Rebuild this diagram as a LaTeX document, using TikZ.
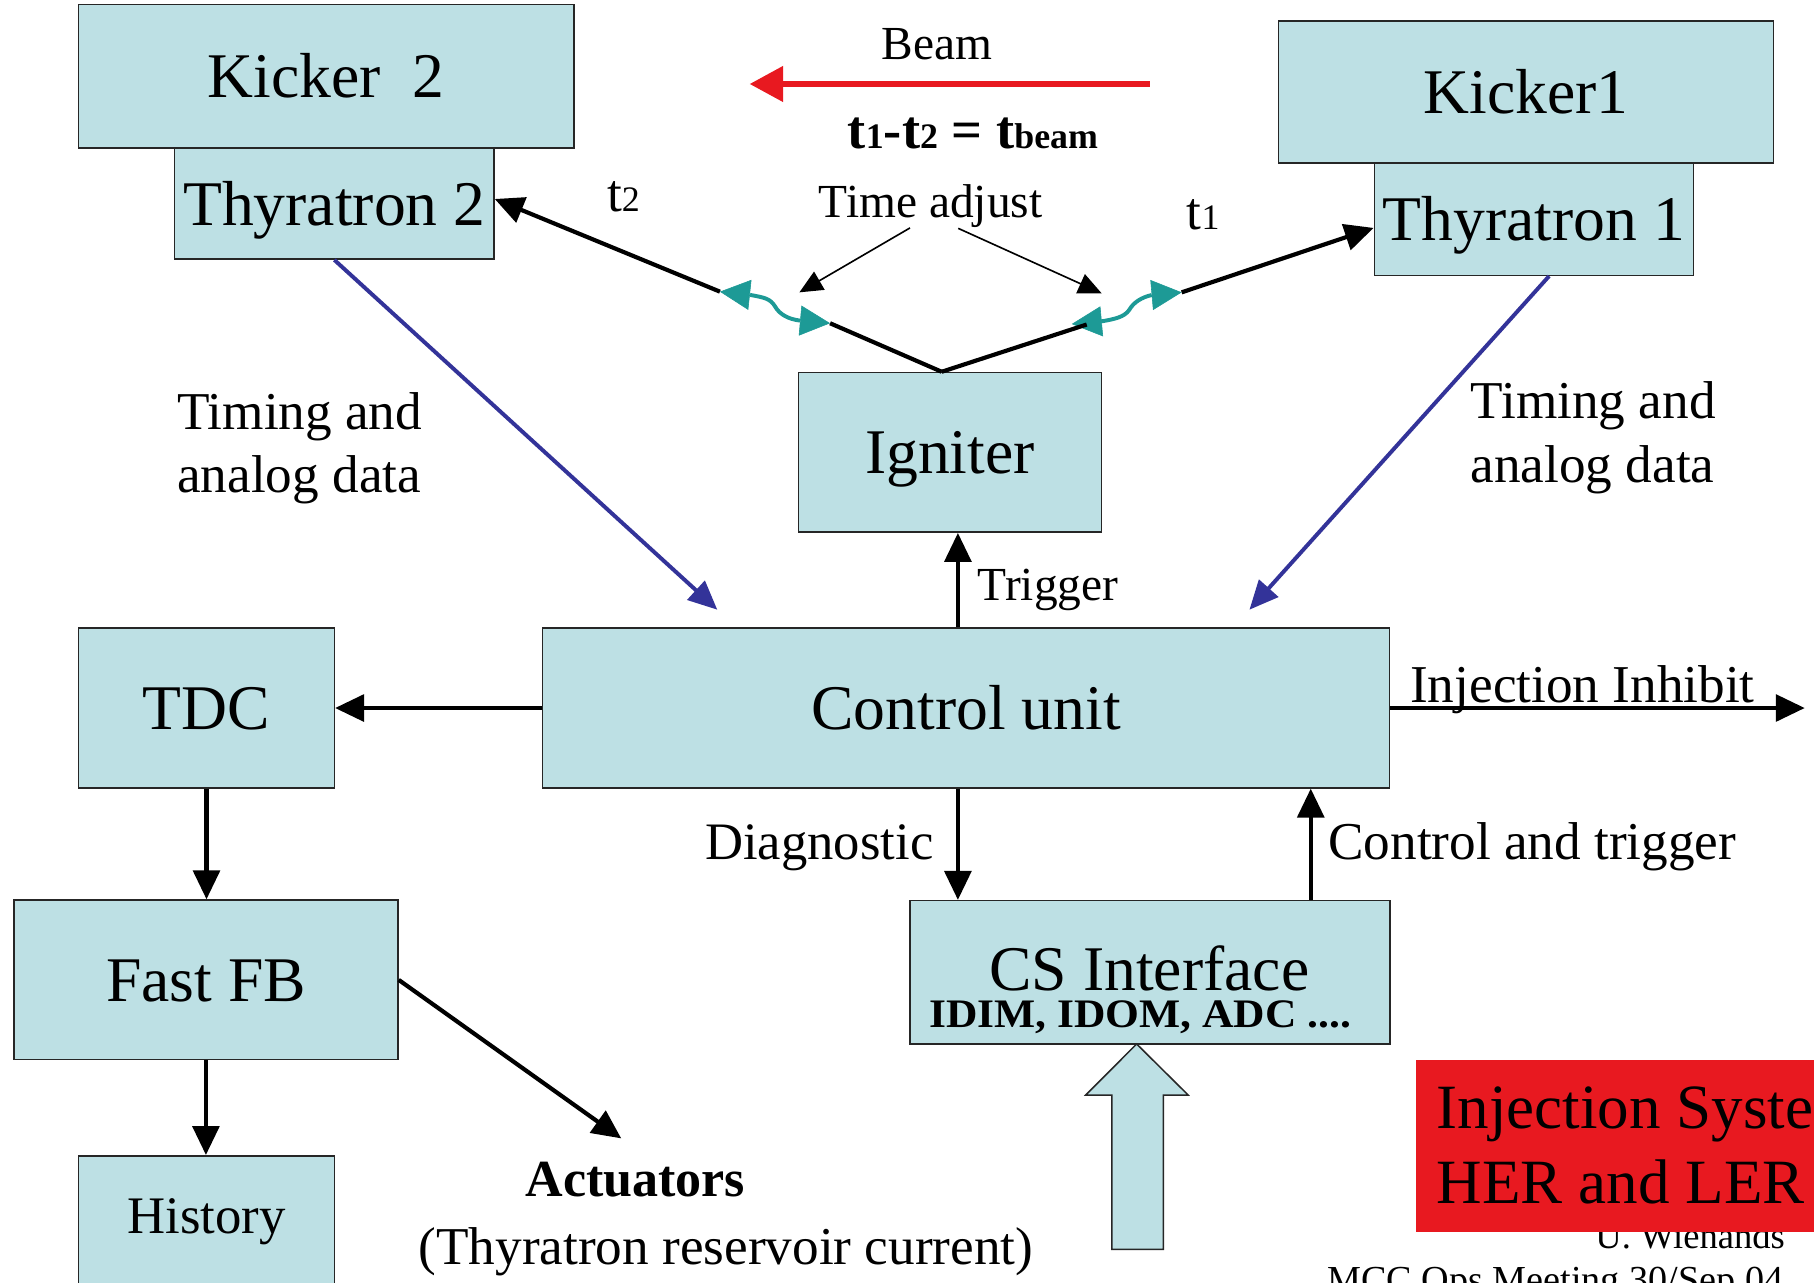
\documentclass[tikz,border=0pt]{standalone}
\usepackage{fontspec}
\setmainfont{Liberation Serif}
\usetikzlibrary{arrows.meta,calc}
\definecolor{boxfill}{RGB}{189,224,228}
\definecolor{tealc}{RGB}{29,154,150}
\definecolor{beamred}{RGB}{232,25,32}
\definecolor{datablue}{RGB}{51,51,153}
\newcommand{\fsz}[1]{\fontsize{#1}{#1}\selectfont}
\begin{document}
\begin{tikzpicture}[x=1pt,y=-1pt,
  box/.style={draw=black!85, line width=1.3pt, fill=boxfill, inner sep=0pt, font=\fsz{55}, text height=37.4pt, text depth=0pt},
  emptybox/.style={draw=black!85, line width=1.3pt, fill=boxfill, inner sep=0pt},
  txt/.style={inner sep=0pt, anchor=base},
  arr/.style={line width=3.6pt, -{Triangle[length=25pt,width=23pt]}},
  thickline/.style={line width=3.6pt},
  bluearr/.style={datablue, line width=3.4pt, -{Triangle[length=25pt,width=22pt]}},
  thinarr/.style={line width=1.4pt, -{Triangle[length=20pt,width=18pt]}},
  wave/.style={tealc, line width=3.4pt},
  wavetip/.style={tealc, line width=0.5pt, -{Triangle[length=26pt,width=26pt]}},
]
\clip (0,0) rectangle (1568,1109);
\fill[white] (0,0) rectangle (1568,1109);

% boxes
\node[box, minimum width=428pt, minimum height=124pt] (k2) at (282,66) {Kicker~~2};
\node[box, minimum width=276pt, minimum height=96pt] (thy2) at (289,176) {Thyratron 2};
\node[box, minimum width=428pt, minimum height=123pt] (k1) at (1319,79.5) {Kicker1};
\node[box, minimum width=276pt, minimum height=97pt] (thy1) at (1326,189.5) {Thyratron 1};
\node[box, minimum width=262pt, minimum height=138pt] (ign) at (821,391) {Igniter};
\node[box, minimum width=732pt, minimum height=138pt] (cu) at (835,612) {Control unit};
\node[box, minimum width=221pt, minimum height=138pt] (tdc) at (178.5,612) {TDC};
\node[box, minimum width=332pt, minimum height=138pt] (ffb) at (178,847) {Fast FB};
\node[emptybox, minimum width=221pt, minimum height=130pt] (hist) at (178.5,1064) {};
\node[txt, font=\fsz{45.6}] (histtxt) at (178.5,1066) {History};
\node[emptybox, minimum width=415pt, minimum height=124pt] (cs) at (994,840.5) {};
\node[txt, font=\fsz{55}] (cstxt) at (993.5,856) {CS Interface};
\node[txt, anchor=base west, font=\fsz{35}\bfseries] (cssub) at (803,888) {\scalebox{1.075}[1]{IDIM, IDOM, ADC ....}};

% hollow arrow into CS interface
\draw[fill=boxfill, line width=1.3pt, draw=black!85] (961,1080) -- (961,946.5) -- (938.5,946.5) -- (982.5,902.4)
  -- (1027,946.5) -- (1005.5,946.5) -- (1005.5,1080) -- cycle;

% footer text (partly hidden by red box)
\node[txt, anchor=base east, font=\fsz{31.6}] (author) at (1543,1079) {U. Wienands};
\node[txt, anchor=base west, font=\fsz{33}] (meeting) at (1147,1117) {MCC Ops Meeting 30/Sep 04};

% red title box
\fill[beamred] (1224,916.2) rectangle (1600,1065.2);
\node[txt, anchor=base west, font=\fsz{54.5}] (title1) at (1241.8,975.3) {Injection System};
\node[txt, anchor=base west, font=\fsz{54.5}] (title2) at (1241.8,1040.7) {HER and LER};

% top labels
\coordinate (beamR) at (994,72.6);
\coordinate (beamL) at (648,72.6);
\draw[beamred, line width=5pt, -{Triangle[length=29pt,width=30pt]}] (beamR) -- (beamL);
\node[txt, font=\fsz{41}] (beamlbl) at (810,51) {Beam};
\node[txt, font=\fsz{47}\bfseries] (eq) at (841,128) {t{\fsz{31}1}-t{\fsz{31}2} = t{\fsz{31}beam}};
\node[txt, font=\fsz{41}] (ta) at (804.5,188) {Time adjust};
\node[txt, font=\fsz{46}] (t2lbl) at (539,183) {t{\fsz{31}2}};
\node[txt, font=\fsz{46}] (t1lbl) at (1040,198) {t{\fsz{31}1}};

% time adjust arrows
\coordinate (ta1s) at (786.6,197);
\coordinate (ta1e) at (691,252.7);
\coordinate (ta2s) at (828.3,197.4);
\coordinate (ta2e) at (952.2,253.5);
\draw[thinarr] (ta1s) -- (ta1e);
\draw[thinarr] (ta2s) -- (ta2e);

% wavy time-adjust double arrows
\coordinate (lwa) at (622.3,252.1);
\coordinate (lwb) at (648.3,254.9);
\coordinate (lwc) at (691.5,277.1);
\coordinate (lwd) at (717.5,279.4);
\coordinate (rwa) at (926.4,280.1);
\coordinate (rwb) at (951.9,277.8);
\coordinate (rwc) at (995.5,255);
\coordinate (rwd) at (1021.4,252.7);
\draw[wave] (lwb) .. controls (660,257) and (666,258) .. (670,265) .. controls (674,272) and (682,276) .. (lwc);
\draw[wavetip] (lwb) -- (lwa);
\draw[wavetip] (lwc) -- (lwd);
\draw[wave] (rwb) .. controls (963,276) and (972,274) .. (976,268) .. controls (980,261) and (987,257) .. (rwc);
\draw[wavetip] (rwb) -- (rwa);
\draw[wavetip] (rwc) -- (rwd);

% igniter to thyratrons
\coordinate (igntop) at ([xshift=-7pt]ign.north);
\coordinate (rj) at (939.3,280.5);
\draw[thickline] (igntop) -- (lwd);
\draw[thickline] (igntop) -- (rj);
\draw[arr] (lwa) -- ([yshift=4pt]thy2.east);
\draw[arr] (rwd) -- ([yshift=-7.5pt]thy1.west);

% timing and analog data
\coordinate (bl) at (620,527);
\coordinate (br) at (1080,527);
\draw[bluearr] (thy2.south) -- (bl);
\draw[bluearr] ([xshift=13pt]thy1.south) -- (br);
\node[txt, anchor=base west, font=\fsz{46}] (tal1) at (153,371) {Timing and};
\node[txt, anchor=base west, font=\fsz{46}] (tal2) at (153,426) {analog data};
\node[txt, anchor=base west, font=\fsz{46}] (tar1) at (1271,362) {Timing and};
\node[txt, anchor=base west, font=\fsz{46}] (tar2) at (1271,417) {analog data};

% control unit connections
\draw[arr] ([xshift=-7pt]cu.north) -- ([xshift=-7pt]cu.north |- ign.south);
\node[txt, anchor=base west, font=\fsz{41}] (trig) at (845,519) {Trigger};
\draw[arr] (cu.west) -- (tdc.east);
\coordinate (inh) at (1560,612);
\draw[arr] (cu.east) -- (inh);
\node[txt, anchor=base west, font=\fsz{46}] (inhlbl) at (1218.8,607) {Injection Inhibit};
\draw[arr] ([xshift=-7pt]cu.south) -- ([xshift=-7pt]cu.south |- cs.north);
\node[txt, anchor=base east, font=\fsz{45.5}] (diag) at (807,743) {Diagnostic};
\draw[arr] ([xshift=139pt]cs.north) -- ([xshift=139pt]cs.north |- cu.south);
\node[txt, anchor=base west, font=\fsz{46}] (ctl) at (1148,743) {Control and trigger};

% TDC chain
\draw[arr] (tdc.south) -- (tdc.south |- ffb.north);
\draw[arr] (ffb.south) -- (ffb.south |- hist.north);
\coordinate (act) at (537,984);
\draw[arr] (ffb.east) -- (act);
\node[txt, anchor=base west, font=\fsz{45}\bfseries] (actlbl) at (454,1034) {Actuators};
\node[txt, anchor=base west, font=\fsz{46}] (actsub) at (361.6,1093) {(Thyratron reservoir current)};
\end{tikzpicture}
\end{document}
